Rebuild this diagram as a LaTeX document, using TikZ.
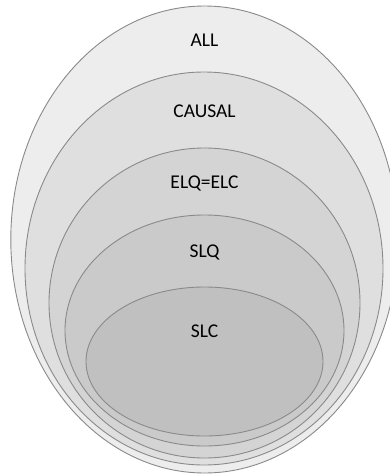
\documentclass[tikz,border=0pt]{standalone}
\usepackage{fontspec}
\setmainfont{Carlito}
\definecolor{cAll}{HTML}{EDEDED}
\definecolor{cCausal}{HTML}{DFDFDF}
\definecolor{cElq}{HTML}{D4D4D4}
\definecolor{cSlq}{HTML}{CACACA}
\definecolor{cSlc}{HTML}{C0C0C0}
\definecolor{cLine}{HTML}{8A8A8A}
\begin{document}
\begin{tikzpicture}[x=1pt,y=-1pt,
  setshape/.style={draw=cLine, line width=0.9pt},
  setlabel/.style={font=\fontsize{19.5}{23}\selectfont, text=black, inner sep=0pt}]
\useasboundingbox (0,0) rectangle (390,474);
\fill[white] (0,0) rectangle (390,474);
\begin{scope}
\clip (0,0) rectangle (390,474);
\path[setshape, fill=cAll]    (204.5,239.5) ellipse [x radius=193.7pt, y radius=233.5pt];
\path[setshape, fill=cCausal] (204,268.5)   ellipse [x radius=179pt, y radius=196.5pt];
\path[setshape, fill=cElq]    (204.5,303)   ellipse [x radius=155.5pt, y radius=155pt];
\path[setshape, fill=cSlq]    (204.5,330.5) ellipse [x radius=139.5pt, y radius=115.5pt];
\path[setshape, fill=cSlc]    (204.5,361.5) ellipse [x radius=118.5pt, y radius=74.5pt];
\end{scope}
\node[setlabel] (all)    at (204.5,40)  {ALL};
\node[setlabel] (causal) at (204.5,111) {CAUSAL};
\node[setlabel] (elq)    at (204.5,183) {ELQ=ELC};
\node[setlabel] (slq)    at (204.5,252) {SLQ};
\node[setlabel] (slc)    at (204.5,331) {SLC};
\end{tikzpicture}
\end{document}
